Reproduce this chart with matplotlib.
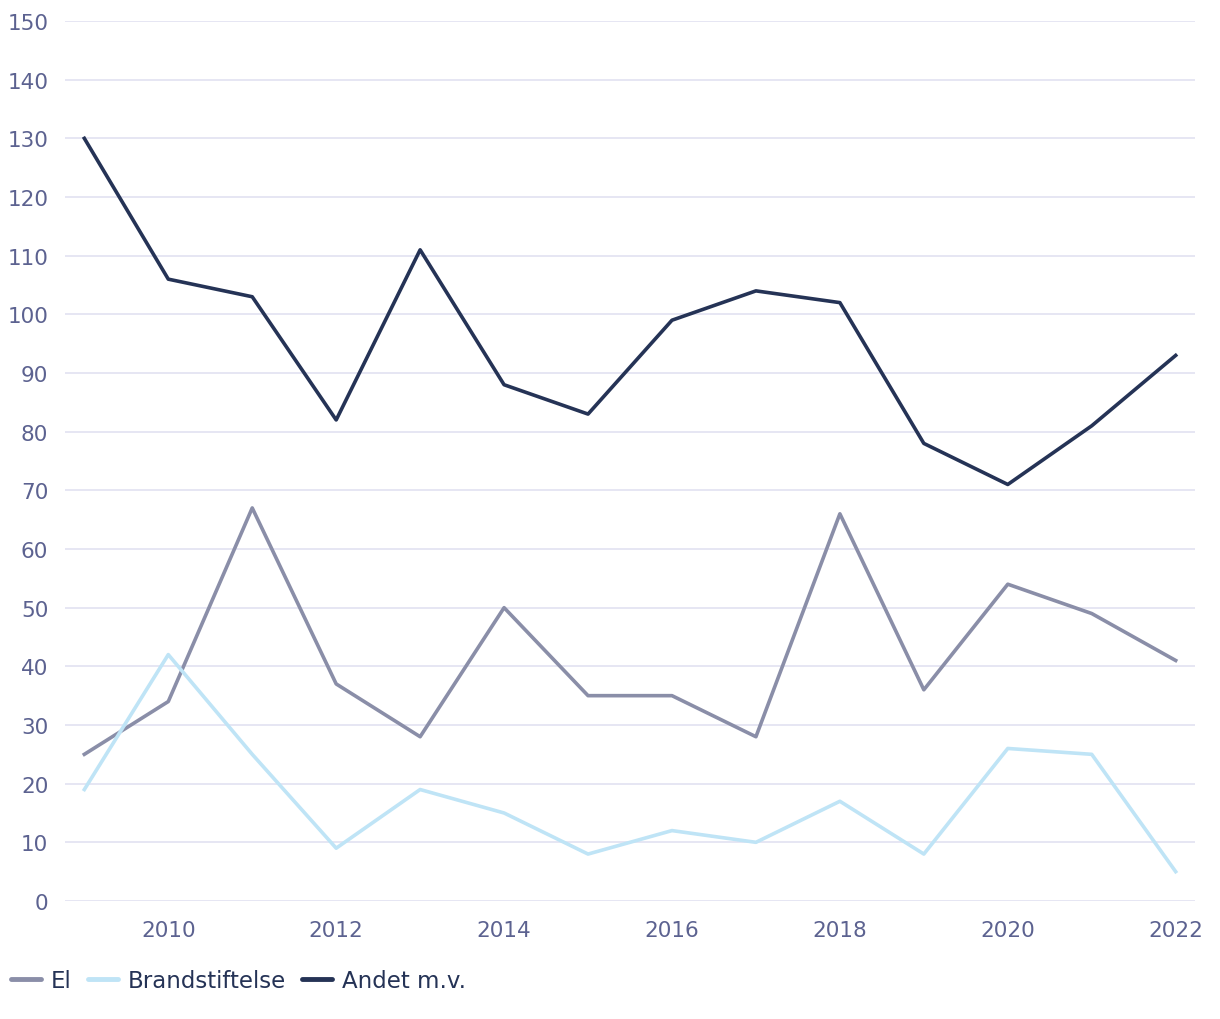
import matplotlib
matplotlib.use("Agg")
import matplotlib.pyplot as plt
from matplotlib.lines import Line2D

years = list(range(2009, 2023))
el = [25, 34, 67, 37, 28, 50, 35, 35, 28, 66, 36, 54, 49, 41]
brand = [19, 42, 25, 9, 19, 15, 8, 12, 10, 17, 8, 26, 25, 5]
andet = [130, 106, 103, 82, 111, 88, 83, 99, 104, 102, 78, 71, 81, 93]
labels = ["El", "Brandstiftelse", "Andet m.v."]

plt.rcParams['font.family'] = ['DejaVu Sans']
tick_color = "#5c6290"

fig = plt.figure(figsize=(12.2, 10.2), dpi=100)
ax = fig.add_axes([0.0533, 0.1157, 0.9262, 0.8627])

c_el, c_br, c_an = "#8a8ea8", "#bfe4f6", "#253356"
ax.plot(years, el, color=c_el, lw=2.6, label=labels[0])
ax.plot(years, brand, color=c_br, lw=2.6, label=labels[1])
ax.plot(years, andet, color=c_an, lw=2.6, label=labels[2])

ax.set_ylim(0, 150)
ax.set_xlim(2008.77, 2022.23)
ax.set_yticks(range(0, 151, 10))
ax.set_xticks(range(2010, 2023, 2))
ax.grid(axis="y", color="#e4e4f2", lw=1.3)
ax.set_axisbelow(True)
for s in ax.spines.values():
    s.set_visible(False)
ax.tick_params(axis="both", length=0, labelsize=15.5, colors=tick_color)
ax.tick_params(axis="y", pad=12)
ax.tick_params(axis="x", pad=14)

handles = [Line2D([0], [0], color=c, lw=3.5, solid_capstyle="round") for c in (c_el, c_br, c_an)]
leg = fig.legend(handles, labels, loc="lower left", bbox_to_anchor=(-0.008, 0.006),
                 ncol=3, frameon=False, fontsize=16.5, handlelength=1.3,
                 handletextpad=0.45, columnspacing=0.7, borderpad=0.4)
for t in leg.get_texts():
    t.set_color("#253356")

fig.savefig("out.png", dpi=100)
